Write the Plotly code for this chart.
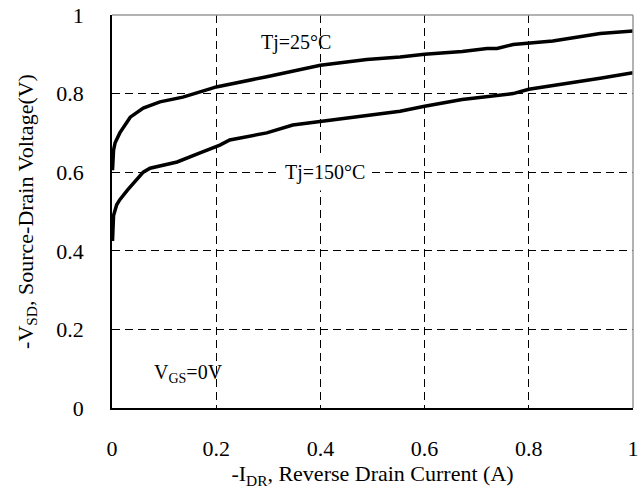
import plotly.graph_objects as go

# Tj = 25 °C curve
x_25 = [0.001, 0.002, 0.003, 0.006, 0.015, 0.035, 0.06, 0.092, 0.136, 0.188, 0.2,
        0.297, 0.36, 0.4, 0.489, 0.553, 0.6, 0.672, 0.72, 0.739, 0.77, 0.8,
        0.846, 0.937, 1.0]
y_25 = [0.605, 0.63, 0.656, 0.675, 0.70, 0.74, 0.763, 0.779, 0.791, 0.812, 0.817,
        0.843, 0.862, 0.872, 0.887, 0.893, 0.90, 0.907, 0.915, 0.915, 0.925, 0.929,
        0.934, 0.953, 0.959]

# Tj = 150 °C curve
x_150 = [0.001, 0.002, 0.003, 0.009, 0.015, 0.03, 0.06, 0.073, 0.125, 0.169, 0.207,
         0.226, 0.297, 0.347, 0.424, 0.501, 0.553, 0.6, 0.672, 0.77, 0.8,
         0.937, 1.0]
y_150 = [0.425, 0.46, 0.49, 0.517, 0.53, 0.555, 0.60, 0.61, 0.626, 0.649, 0.669,
         0.682, 0.70, 0.72, 0.733, 0.746, 0.755, 0.768, 0.785, 0.80, 0.811,
         0.839, 0.853]

tick_vals = [0, 0.2, 0.4, 0.6, 0.8, 1]
tick_text = ["0", "0.2", "0.4", "0.6", "0.8", "1"]

FONT = "Liberation Serif"

fig = go.Figure()
fig.add_trace(go.Scatter(x=x_25, y=y_25, mode="lines",
                         line=dict(color="black", width=3.5), showlegend=False))
fig.add_trace(go.Scatter(x=x_150, y=y_150, mode="lines",
                         line=dict(color="black", width=3.5), showlegend=False))

axis_common = dict(
    range=[0, 1], tickvals=tick_vals, ticktext=tick_text,
    showgrid=True, gridcolor="black", gridwidth=1, griddash="8px,5px",
    zeroline=False, showline=True, linecolor="black", linewidth=1.5,
    ticks="", tickfont=dict(family=FONT, size=22, color="black"),
    automargin=False,
)

fig.update_layout(
    width=642, height=491,
    margin=dict(l=112, r=9, t=15, b=83),
    paper_bgcolor="white", plot_bgcolor="white",
    font=dict(family=FONT, color="black"),
    xaxis=dict(**axis_common, ticklabelstandoff=20,
               title=dict(text="-I<sub>DR</sub>, Reverse Drain Current (A)",
                          font=dict(family=FONT, size=22, color="black"), standoff=1)),
    yaxis=dict(**axis_common, ticklabelstandoff=22,
               title=dict(text="-V<sub>SD</sub>, Source-Drain Voltage(V)",
                          font=dict(family=FONT, size=22, color="black"), standoff=17)),
    shapes=[
        dict(type="line", xref="paper", yref="paper", x0=0, x1=1, y0=1, y1=1,
             line=dict(color="#999999", width=1.5), layer="above"),
        dict(type="line", xref="paper", yref="paper", x0=1, x1=1, y0=0, y1=1,
             line=dict(color="#999999", width=1.5), layer="above"),
    ],
    annotations=[
        dict(x=0.353, y=0.929, text="Tj=25°C", showarrow=False,
             font=dict(family=FONT, size=20, color="black")),
        dict(x=0.409, y=0.60, text="Tj=150°C", showarrow=False, bgcolor="white",
             borderpad=6, font=dict(family=FONT, size=20, color="black")),
        dict(x=0.077, y=0.089, text="V<sub>GS</sub>=0V", showarrow=False,
             xanchor="left", font=dict(family=FONT, size=20, color="black")),
    ],
)

fig.write_html("out.html")
